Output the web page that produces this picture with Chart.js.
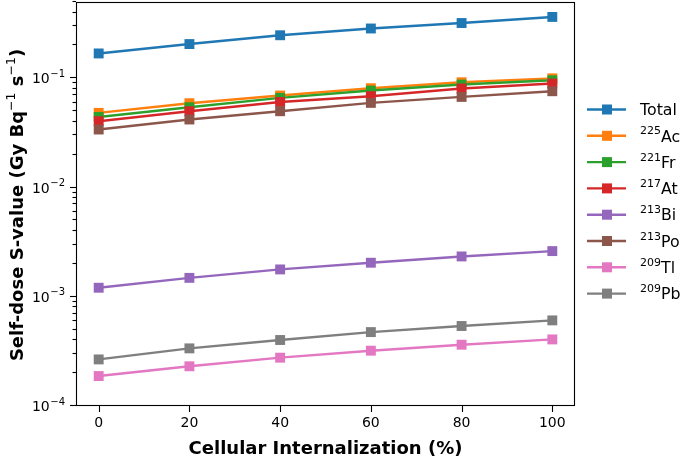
<!DOCTYPE html>
<html><head><meta charset="utf-8">
<script src="https://cdn.jsdelivr.net/npm/chart.js@4"></script>
<style>html,body{margin:0;padding:0;background:#fff}#wrap{width:685px;height:457px;position:relative}</style>
</head><body><div id="wrap"><canvas id="c"></canvas></div>
<script>
const internalization = [0, 20, 40, 60, 80, 100];
const total = [0.169, 0.206, 0.248, 0.286, 0.321, 0.365];
const ac225 = [0.0483, 0.0592, 0.0696, 0.0812, 0.0921, 0.100];
const fr221 = [0.0443, 0.0544, 0.0662, 0.0773, 0.0877, 0.096];
const at217 = [0.0405, 0.0500, 0.0608, 0.0686, 0.0807, 0.0896];
const bi213 = [0.00121, 0.00149, 0.00178, 0.00205, 0.00234, 0.00262];
const po213 = [0.0340, 0.0420, 0.0500, 0.0596, 0.0676, 0.0762];
const tl209 = [0.000188, 0.000231, 0.000277, 0.000321, 0.000364, 0.000407];
const pb209 = [0.000267, 0.000337, 0.000402, 0.000475, 0.000540, 0.000608];
const seriesNames = ['Total', 'Ac', 'Fr', 'At', 'Bi', 'Po', 'Tl', 'Pb'];
const massNumbers = ['', '225', '221', '217', '213', '213', '209', '209'];
const seriesValues = [total, ac225, fr221, at217, bi213, po213, tl209, pb209];
const colors = ['#1f77b4', '#ff7f0e', '#2ca02c', '#d62728', '#9467bd', '#8c564b', '#e377c2', '#7f7f7f'];
const xTicks = [0, 20, 40, 60, 80, 100];
const yMajorTicks = [1e-4, 1e-3, 1e-2, 1e-1];
const yExponents = ['\u22124', '\u22123', '\u22122', '\u22121'];
const xTitle = 'Cellular Internalization (%)';
const yTitleParts = [['Self-dose S-value (Gy Bq', false], ['\u22121', true], [' s', false], ['\u22121', true], [')', false]];

const FONT = "'DejaVu Sans', sans-serif";

const datasets = seriesValues.map((vals, i) => ({
  label: (massNumbers[i] ? massNumbers[i] : '') + seriesNames[i],
  data: internalization.map((x, j) => ({ x: x, y: vals[j] })),
  borderColor: colors[i],
  backgroundColor: colors[i],
  borderWidth: 2.4,
  pointStyle: 'rect',
  pointRadius: 7,
  pointHoverRadius: 7,
  pointBorderWidth: 0,
  order: seriesValues.length - 1 - i,
  tension: 0,
  clip: false
}));

const decor = {
  id: 'decor',
  afterDraw(chart) {
    const ctx = chart.ctx;
    const a = chart.chartArea;
    const ys = chart.scales.y, xs = chart.scales.x;
    ctx.save();
    ctx.strokeStyle = '#000';
    ctx.lineWidth = 1.1;
    ctx.strokeRect(a.left + 0.5, a.top + 0.5, a.right - a.left - 1, a.bottom - a.top - 1);
    // x ticks
    xTicks.forEach(v => {
      const px = Math.round(xs.getPixelForValue(v)) + 0.5;
      ctx.beginPath(); ctx.moveTo(px, a.bottom); ctx.lineTo(px, a.bottom + 6); ctx.stroke();
    });
    // y ticks major + minor
    yMajorTicks.forEach((d, k) => {
      const py = Math.round(ys.getPixelForValue(d)) - 0.5;
      ctx.beginPath(); ctx.moveTo(a.left - 6, py); ctx.lineTo(a.left, py); ctx.stroke();
      for (let m = 2; m <= 9; m++) {
        const v = d * m;
        if (v > ys.max) break;
        const pm = Math.round(ys.getPixelForValue(v)) - 0.5;
        ctx.beginPath(); ctx.moveTo(a.left - 3.5, pm); ctx.lineTo(a.left, pm); ctx.stroke();
      }
      const py2 = ys.getPixelForValue(d);
      ctx.fillStyle = '#000';
      ctx.font = '10px ' + FONT;
      const supW = ctx.measureText(yExponents[k]).width;
      const right = a.left - 11;
      ctx.textAlign = 'left';
      ctx.textBaseline = 'alphabetic';
      ctx.fillText(yExponents[k], right - supW, py2 - 1.5);
      ctx.font = '14px ' + FONT;
      ctx.textAlign = 'right';
      ctx.fillText('10', right - supW - 0.5, py2 + 5);
    });
    // x title
    ctx.fillStyle = '#000';
    ctx.font = 'bold 18px ' + FONT;
    ctx.textAlign = 'center';
    ctx.textBaseline = 'alphabetic';
    ctx.fillText(xTitle, (a.left + a.right) / 2, 454);
    // y title
    ctx.save();
    ctx.translate(16, (a.top + a.bottom) / 2 + 1);
    ctx.rotate(-Math.PI / 2);
    const mainF = 'bold 18px ' + FONT, supF = '12.5px ' + FONT;
    let tw = 0;
    yTitleParts.forEach(p => { ctx.font = p[1] ? supF : mainF; tw += ctx.measureText(p[0]).width; });
    let cx = -tw / 2;
    ctx.textAlign = 'left';
    ctx.textBaseline = 'alphabetic';
    yTitleParts.forEach(p => {
      ctx.font = p[1] ? supF : mainF;
      ctx.fillText(p[0], cx, p[1] ? -1.5 : 6.5);
      cx += ctx.measureText(p[0]).width;
    });
    ctx.restore();
    // legend
    const spacing = 26.3;
    const ly0 = 109.5;
    chart.data.datasets.forEach((ds, i) => {
      const y = ly0 + i * spacing;
      ctx.strokeStyle = ds.borderColor;
      ctx.lineWidth = 2.4;
      ctx.beginPath(); ctx.moveTo(587, y); ctx.lineTo(626, y); ctx.stroke();
      ctx.fillStyle = ds.backgroundColor;
      ctx.fillRect(607 - 5, y - 5, 10, 10);
      ctx.fillStyle = '#000';
      ctx.textAlign = 'left';
      ctx.textBaseline = 'alphabetic';
      let tx = 640;
      if (massNumbers[i]) {
        ctx.font = '11px ' + FONT;
        ctx.fillText(massNumbers[i], tx, y - 1.5);
        tx += ctx.measureText(massNumbers[i]).width;
      }
      ctx.font = '15.8px ' + FONT;
      ctx.fillText(seriesNames[i], tx, y + 5.7);
    });
    ctx.restore();
  }
};

new Chart(document.getElementById('c'), {
  type: 'line',
  data: { datasets: datasets },
  options: {
    responsive: true,
    maintainAspectRatio: false,
    devicePixelRatio: 1,
    animation: false,
    layout: { autoPadding: false, padding: { left: 0, right: 110, top: 2, bottom: 0 } },
    plugins: { legend: { display: false }, tooltip: { enabled: false } },
    scales: {
      x: {
        type: 'linear',
        min: -5, max: 105,
        afterBuildTicks: s => { s.ticks = xTicks.map(v => ({ value: v })); },
        afterFit: s => { s.height = 51; },
        grid: { display: false },
        border: { display: false },
        ticks: { color: '#000', font: { family: FONT, size: 14 }, padding: 1, maxRotation: 0 },
        title: { display: false }
      },
      y: {
        type: 'logarithmic',
        min: 1e-4, max: 0.5,
        afterFit: s => { s.width = 76; },
        grid: { display: false },
        border: { display: false },
        ticks: { display: false }
      }
    }
  },
  plugins: [decor]
});
</script>
</body></html>
